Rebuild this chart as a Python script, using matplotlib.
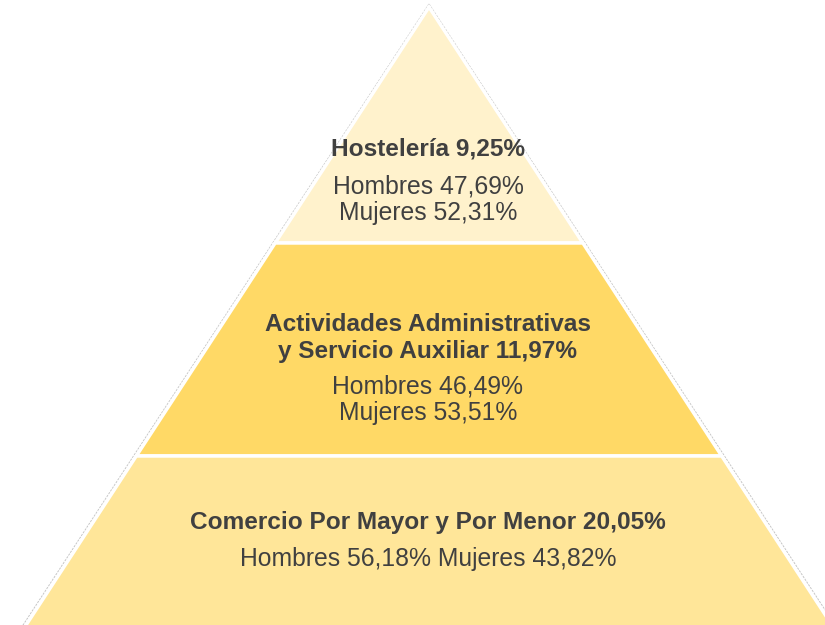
import matplotlib.pyplot as plt
from matplotlib.patches import Polygon

# sectors, from top of the pyramid to the base
sectors = ["Hostelería", "Actividades Administrativas\ny Servicio Auxiliar", "Comercio Por Mayor y Por Menor"]
sector_pct = ["9,25%", "11,97%", "20,05%"]
hombres = ["47,69%", "46,49%", "56,18%"]
mujeres = ["52,31%", "53,51%", "43,82%"]
band_colors = ["#FFF2CC", "#FFD966", "#FFE699"]

plt.rcParams["font.family"] = ["Liberation Sans", "DejaVu Sans"]
txt_color = "#404040"
fs_bold = 17.6
fs_reg = 17.8

W, H = 825, 625
fig = plt.figure(figsize=(W / 100, H / 100), dpi=100)
ax = fig.add_axes([0, 0, 1, 1])
ax.set_xlim(0, W)
ax.set_ylim(H, 0)
ax.axis("off")

# pyramid layout in pixel units
apex_x, apex_y = 429, 7
slope = 0.652
edges = [apex_y, 243, 456, 660]


def half_w(y):
    return slope * (y - apex_y)


# faint grey outline around the whole triangle
yb = edges[-1]
outline = Polygon([(apex_x, apex_y - 3), (apex_x - half_w(yb) - 3, yb), (apex_x + half_w(yb) + 3, yb)],
                  closed=True, facecolor="none", edgecolor="#c8c8c8", lw=0.8, ls=(0, (2, 1)))
ax.add_patch(outline)

for i in range(3):
    y0, y1 = edges[i], edges[i + 1]
    pts = [(apex_x - half_w(y0), y0), (apex_x + half_w(y0), y0),
           (apex_x + half_w(y1), y1), (apex_x - half_w(y1), y1)]
    ax.add_patch(Polygon(pts, closed=True, facecolor=band_colors[i], edgecolor="white", lw=2.5))

# labels
ax.text(428, 149, f"{sectors[0]} {sector_pct[0]}", ha="center", va="center",
        fontsize=fs_bold, fontweight="bold", color=txt_color)
ax.text(428, 200, f"Hombres {hombres[0]}\nMujeres {mujeres[0]}", ha="center", va="center",
        fontsize=fs_reg, color=txt_color, linespacing=1.15)

ax.text(428, 338, f"{sectors[1]} {sector_pct[1]}", ha="center", va="center",
        fontsize=fs_bold, fontweight="bold", color=txt_color, linespacing=1.2)
ax.text(428, 399.5, f"Hombres {hombres[1]}\nMujeres {mujeres[1]}", ha="center", va="center",
        fontsize=fs_reg, color=txt_color, linespacing=1.15)

ax.text(428, 523, f"{sectors[2]} {sector_pct[2]}", ha="center", va="center",
        fontsize=fs_bold, fontweight="bold", color=txt_color)
ax.text(428, 559, f"Hombres {hombres[2]} Mujeres {mujeres[2]}", ha="center", va="center",
        fontsize=fs_reg, color=txt_color)

fig.savefig("out.png", dpi=100, facecolor="white")
